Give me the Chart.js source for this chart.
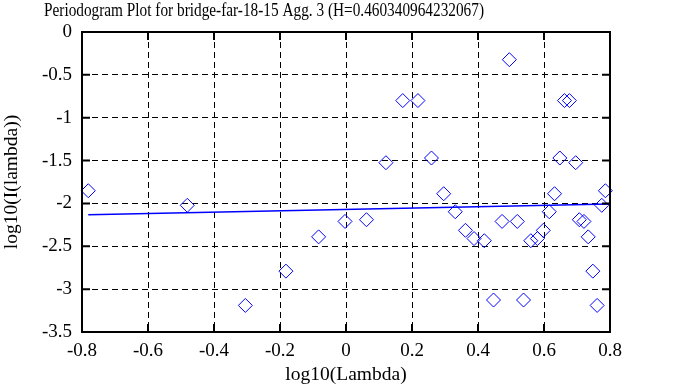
<!DOCTYPE html>
<html>
<head>
<meta charset="utf-8">
<script src="https://cdn.jsdelivr.net/npm/chart.js@4/dist/chart.umd.min.js"></script>
<style>
html,body{margin:0;padding:0;background:#fff;}
#wrap{width:683px;height:387px;position:relative;}
</style>
</head>
<body>
<div id="wrap"><canvas id="c" width="683" height="387"></canvas></div>
<script>
const titleText = 'Periodogram Plot for bridge-far-18-15 Agg. 3 (H=0.460340964232067)';
const xAxisTitle = 'log10(Lambda)';
const yAxisTitle = 'log10(I(lambda))';
const xTicks = [-0.8, -0.6, -0.4, -0.2, 0, 0.2, 0.4, 0.6, 0.8];
const yTicks = [0, -0.5, -1, -1.5, -2, -2.5, -3, -3.5];

const logLambda = [-0.781, -0.481, -0.305, -0.182, -0.083, -0.003, 0.062, 0.121, 0.172, 0.218,
  0.259, 0.296, 0.331, 0.362, 0.388, 0.419, 0.447, 0.473, 0.495, 0.519,
  0.538, 0.560, 0.580, 0.598, 0.616, 0.632, 0.648, 0.662, 0.677, 0.696,
  0.707, 0.721, 0.734, 0.748, 0.761, 0.775, 0.786];
const logI = [-1.852, -2.022, -3.19, -2.79, -2.39, -2.21, -2.19, -1.525, -0.80, -0.80,
  -1.47, -1.887, -2.097, -2.314, -2.41, -2.435, -3.127, -2.21, -0.323, -2.21,
  -3.127, -2.435, -2.41, -2.314, -2.097, -1.887, -1.47, -0.80, -0.80, -1.525,
  -2.19, -2.21, -2.39, -2.79, -3.19, -2.022, -1.852];
const fitX = [-0.781, 0.8];
const fitY = [-2.132, -2.007];

const FONT = 'Liberation Serif';

const framePlugin = {
  id: 'frame',
  afterDatasetsDraw(chart) {
    const {ctx, chartArea: a, scales: {x, y}} = chart;
    ctx.save();
    ctx.strokeStyle = '#000';
    ctx.lineWidth = 2;
    ctx.beginPath();
    const tl = 8;
    xTicks.forEach(v => {
      const px = x.getPixelForValue(v);
      ctx.moveTo(px, a.bottom); ctx.lineTo(px, a.bottom - tl);
      ctx.moveTo(px, a.top); ctx.lineTo(px, a.top + tl);
    });
    yTicks.forEach(v => {
      const py = y.getPixelForValue(v);
      ctx.moveTo(a.left, py); ctx.lineTo(a.left + tl, py);
      ctx.moveTo(a.right, py); ctx.lineTo(a.right - tl, py);
    });
    ctx.stroke();
    ctx.strokeRect(a.left, a.top, a.right - a.left, a.bottom - a.top);
    // chart title
    ctx.fillStyle = '#000';
    ctx.font = '18.5px "' + FONT + '"';
    ctx.textAlign = 'center';
    ctx.textBaseline = 'middle';
    ctx.translate(264, 11);
    ctx.scale(0.827, 1);
    ctx.fillText(titleText, 0, 0);
    ctx.restore();
  }
};

new Chart(document.getElementById('c'), {
  type: 'scatter',
  data: {
    datasets: [
      {
        data: logLambda.map((v, i) => ({x: v, y: logI[i]})),
        pointStyle: 'rectRot',
        pointRadius: 7,
        pointHoverRadius: 7,
        borderColor: '#0000ff',
        backgroundColor: 'rgba(0,0,0,0)',
        borderWidth: 1,
        showLine: false,
        clip: false
      },
      {
        data: fitX.map((v, i) => ({x: v, y: fitY[i]})),
        showLine: true,
        pointRadius: 0,
        borderColor: '#0000ff',
        borderWidth: 1.5,
        fill: false
      }
    ]
  },
  options: {
    responsive: false,
    animation: false,
    events: [],
    layout: {padding: {left: 0, right: 73, top: 32, bottom: 0}},
    plugins: {
      legend: {display: false},
      tooltip: {enabled: false},
      title: {display: false}
    },
    scales: {
      x: {
        type: 'linear',
        min: -0.8, max: 0.8,
        afterBuildTicks: s => { s.ticks = xTicks.map(v => ({value: v})); },
        afterFit: s => { s.height = 55; },
        ticks: {
          color: '#000',
          font: {family: FONT, size: 19},
          padding: 8,
          maxRotation: 0,
          autoSkip: false,
          callback: v => String(v)
        },
        grid: {color: '#000', lineWidth: 1, drawTicks: false},
        border: {display: false, dash: [6, 4]},
        title: {
          display: true, text: xAxisTitle, color: '#000',
          font: {family: FONT, size: 19.5, lineHeight: 1.2},
          padding: {top: 0, bottom: 0}
        }
      },
      y: {
        type: 'linear',
        min: -3.5, max: 0,
        afterBuildTicks: s => { s.ticks = yTicks.map(v => ({value: v})); },
        afterFit: s => { s.width = 82; },
        ticks: {
          color: '#000',
          font: {family: FONT, size: 19},
          padding: 10,
          autoSkip: false,
          callback: v => String(v)
        },
        grid: {color: '#000', lineWidth: 1, drawTicks: false},
        border: {display: false, dash: [6, 4]},
        title: {
          display: true, text: yAxisTitle, color: '#000',
          font: {family: FONT, size: 19.5, lineHeight: 1.2},
          padding: {top: 0, bottom: 0}
        }
      }
    }
  },
  plugins: [framePlugin]
});
</script>
</body>
</html>
